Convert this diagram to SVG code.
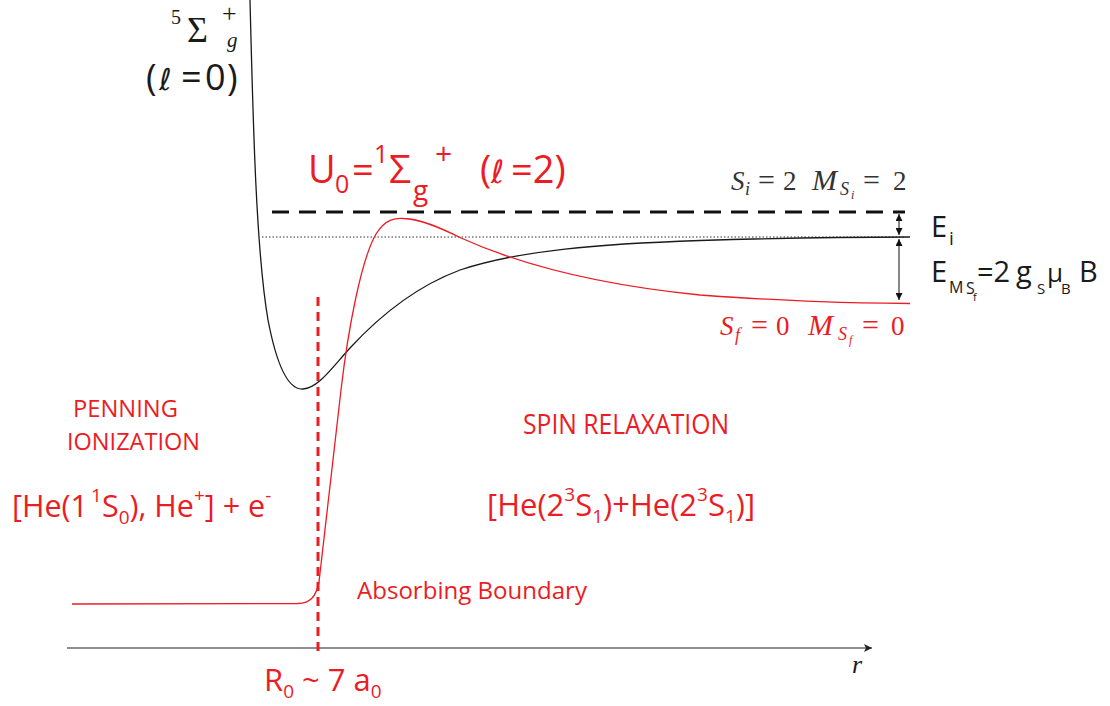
<svg xmlns="http://www.w3.org/2000/svg" width="1110" height="706" viewBox="0 0 1110 706">
<defs>
<style>
.red{fill:#ec1c24}
.sans{font-family:"Open Sans","DejaVu Sans",sans-serif}
.serif{font-family:"Liberation Serif","DejaVu Serif",serif}
.it{font-style:italic}
.blk{fill:#1a1a1a}
.ell{font-family:"DejaVu Sans",sans-serif;font-style:italic}
</style>
<marker id="ah" viewBox="0 0 10 10" refX="10" refY="5" markerWidth="10" markerHeight="8" markerUnits="userSpaceOnUse" orient="auto">
<path d="M0,0 L10,5 L0,10 L2.5,5 Z" fill="#222"/>
</marker>
<marker id="dh" viewBox="0 0 10 10" refX="10" refY="5" markerWidth="7" markerHeight="7" markerUnits="userSpaceOnUse" orient="auto-start-reverse">
<path d="M0,0 L10,5 L0,10 Z" fill="#111"/>
</marker>
</defs>
<rect width="1110" height="706" fill="#fff"/>

<g id="axis">
<line x1="67" y1="648" x2="872" y2="648" stroke="#222" stroke-width="1.2" marker-end="url(#ah)"/>
<text x="852" y="673" class="serif it blk" font-size="26">r</text>
</g>

<g id="levels">
<line x1="272" y1="212" x2="905" y2="212" stroke="#111" stroke-width="3" stroke-dasharray="17 10"/>
<line x1="262" y1="237" x2="905" y2="237" stroke="#333" stroke-width="1" stroke-dasharray="1.5 2"/>
</g>

<g id="curves" fill="none">
<path id="triplet" d="M250,0 C253,120 256,250 268,320 C278,372 290,390 303,389 C318,388 330,370 350,348 C385,310 420,285 460,270 C520,250 600,244 700,240.5 C780,238 850,237 910,237" stroke="#1a1a1a" stroke-width="1.3"/>
<path id="singlet" d="M72,604 L298,603.5 C310,603 316,597 319,582 L341,390 C348,330 361,260 376,234 C386,218 396,218 404,218.5 C421,219 441,228 461,238 C521,265 600,285 700,295 C800,302 850,303 910,303.5" stroke="#ec1c24" stroke-width="1.3"/>
<line id="boundary" x1="318" y1="297" x2="318" y2="656" stroke="#ec1c24" stroke-width="3" stroke-dasharray="9 6"/>
</g>

<g id="arrows">
<line x1="899" y1="214" x2="899" y2="235" stroke="#111" stroke-width="1" marker-start="url(#dh)" marker-end="url(#dh)"/>
<line x1="899" y1="239" x2="899" y2="300" stroke="#111" stroke-width="1" marker-start="url(#dh)" marker-end="url(#dh)"/>
</g>

<g id="label-quintet" class="blk">
<text class="serif" font-size="20" x="171" y="24">5</text>
<text class="serif" font-size="36" x="187" y="42">Σ</text>
<text class="serif" font-size="26" x="222" y="22">+</text>
<text class="serif it" font-size="21" x="227" y="47">g</text>
<text class="sans" font-size="36" y="90"><tspan x="146">(</tspan><tspan x="159" class="ell" font-size="30">ℓ</tspan><tspan x="181">=</tspan><tspan x="205">0</tspan><tspan x="227">)</tspan></text>
</g>

<g id="label-U0" class="red sans">
<text font-size="38" y="183"><tspan x="308">U</tspan><tspan x="335" y="193" font-size="25">0</tspan><tspan x="352" y="183">=</tspan><tspan x="374" y="163" font-size="25">1</tspan><tspan x="389" y="183" font-size="39">Σ</tspan><tspan x="413" y="200" font-size="28">g</tspan><tspan x="435" y="164" font-size="30">+</tspan><tspan x="480" y="183">(</tspan><tspan x="491" class="ell" font-size="32">ℓ</tspan><tspan x="511">=2)</tspan></text>
</g>

<g id="label-Si" class="serif" fill="#333">
<text font-size="27" y="190"><tspan x="731" class="it">S</tspan><tspan x="745" y="195" font-size="18" class="it">i</tspan><tspan x="758" y="190" font-size="30">=</tspan><tspan x="783">2</tspan><tspan x="812" class="it" font-size="30">M</tspan><tspan x="840" y="195" font-size="18" class="it">S</tspan><tspan x="851" y="199" font-size="12" class="it">i</tspan><tspan x="863" y="190" font-size="30">=</tspan><tspan x="893">2</tspan></text>
</g>

<g id="label-Sf" class="serif red">
<text font-size="27" y="335"><tspan x="720" class="it">S</tspan><tspan x="735" y="341" font-size="18" class="it">f</tspan><tspan x="751" y="335" font-size="30">=</tspan><tspan x="776">0</tspan><tspan x="808" class="it" font-size="30">M</tspan><tspan x="838" y="340" font-size="18" class="it">S</tspan><tspan x="849" y="344" font-size="12" class="it">f</tspan><tspan x="862" y="335" font-size="30">=</tspan><tspan x="891">0</tspan></text>
</g>

<g id="label-Ei" class="sans blk">
<text font-size="29" y="237"><tspan x="931">E</tspan><tspan x="949" y="245" font-size="19">i</tspan></text>
</g>

<g id="label-EM" class="sans blk">
<text font-size="29" y="282"><tspan x="931">E</tspan><tspan x="949" y="293" font-size="16">M</tspan><tspan x="966" y="294" font-size="16">S</tspan><tspan x="973" y="301" font-size="11">f</tspan><tspan x="977" y="282">=2</tspan><tspan x="1016">g</tspan><tspan x="1037" y="294" font-size="15">S</tspan><tspan x="1047" y="282" font-size="26">μ</tspan><tspan x="1061" y="294" font-size="15">B</tspan><tspan x="1079" y="282">B</tspan></text>
</g>

<g id="label-penning" class="sans red">
<text font-size="24" x="73" y="417" textLength="105" lengthAdjust="spacingAndGlyphs">PENNING</text>
<text font-size="24" x="67" y="450" textLength="133" lengthAdjust="spacingAndGlyphs">IONIZATION</text>
</g>

<g id="label-spin" class="sans red">
<text font-size="27" x="523" y="434" textLength="206" lengthAdjust="spacingAndGlyphs">SPIN RELAXATION</text>
</g>

<g id="label-penning-products" class="sans red">
<text font-size="30.5" y="517"><tspan x="12">[He(1</tspan><tspan dx="3" y="502" font-size="19">1</tspan><tspan y="517">S</tspan><tspan y="524" font-size="19">0</tspan><tspan y="517">), He</tspan><tspan y="502" font-size="19">+</tspan><tspan y="517">] + e</tspan><tspan y="502" font-size="19">-</tspan></text>
</g>

<g id="label-spin-products" class="sans red">
<text font-size="31" y="516"><tspan x="487">[He(2</tspan><tspan y="501" font-size="19">3</tspan><tspan y="516">S</tspan><tspan y="523" font-size="19">1</tspan><tspan y="516">)+He(2</tspan><tspan y="501" font-size="19">3</tspan><tspan y="516">S</tspan><tspan y="523" font-size="19">1</tspan><tspan y="516">)]</tspan></text>
</g>

<g id="label-absorbing" class="sans red">
<text font-size="24" x="357" y="599" textLength="230" lengthAdjust="spacingAndGlyphs">Absorbing Boundary</text>
</g>

<g id="label-R0" class="sans red">
<text font-size="31" y="691"><tspan x="264">R</tspan><tspan y="698" font-size="19">0</tspan><tspan y="691"> ~ 7 a</tspan><tspan y="698" font-size="19">0</tspan></text>
</g>
</svg>
